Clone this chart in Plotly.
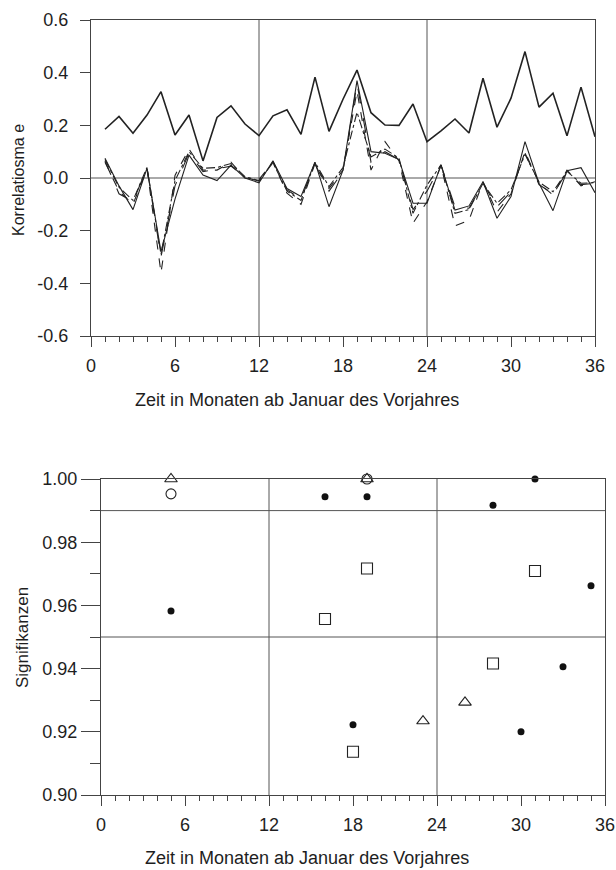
import plotly.graph_objects as go

# ---------------- data ----------------
months = list(range(1, 37))

korr_oben = [0.185, 0.234, 0.170, 0.239, 0.328, 0.163, 0.239, 0.065, 0.230, 0.274, 0.205, 0.161,
             0.236, 0.259, 0.166, 0.383, 0.177, 0.299, 0.410, 0.248, 0.201, 0.200, 0.281, 0.138,
             0.179, 0.224, 0.171, 0.379, 0.193, 0.303, 0.480, 0.269, 0.322, 0.160, 0.345, 0.157]

korr_a = [0.075, -0.030, -0.120, 0.037, -0.280, -0.080, 0.087, 0.011, -0.010, 0.049, 0.000, -0.018,
          0.065, -0.040, -0.070, 0.060, -0.109, 0.030, 0.370, 0.100, 0.094, 0.070, -0.096, -0.096,
          0.049, -0.122, -0.106, -0.014, -0.153, -0.070, 0.138, -0.020, -0.124, 0.028, 0.039, -0.056]

korr_b = [0.060, -0.050, -0.100, 0.035, -0.360, 0.010, 0.110, 0.030, 0.030, 0.060, 0.000, -0.005,
          0.060, -0.058, -0.100, 0.055, -0.040, 0.030, 0.330, 0.030, 0.138, 0.065, -0.172, -0.090,
          0.048, -0.182, -0.160, -0.014, -0.130, -0.060, 0.100, -0.020, -0.065, 0.030, -0.030, -0.014]

korr_c = [0.070, -0.035, -0.085, 0.040, -0.290, -0.010, 0.100, 0.037, 0.040, 0.055, 0.005, -0.010,
          0.058, -0.050, -0.085, 0.060, -0.033, 0.040, 0.250, 0.080, 0.110, 0.075, -0.134, -0.027,
          0.050, -0.134, -0.120, -0.020, -0.096, -0.045, 0.090, -0.015, -0.052, 0.025, -0.020, -0.018]

korr_d = [0.065, -0.060, -0.090, 0.038, -0.300, -0.030, 0.095, 0.024, 0.035, 0.045, 0.003, -0.012,
          0.062, -0.045, -0.080, 0.052, -0.050, 0.025, 0.360, 0.060, 0.100, 0.070, -0.120, -0.050,
          0.050, -0.110, -0.115, -0.020, -0.110, -0.052, 0.095, -0.025, -0.060, 0.022, -0.025, -0.020]

sig_punkt_x = [5, 16, 18, 19, 28, 30, 31, 33, 35]
sig_punkt_y = [0.9582, 0.9944, 0.9222, 0.9944, 0.9917, 0.9200, 1.0000, 0.9406, 0.9662]

sig_quadrat_x = [16, 18, 19, 28, 31]
sig_quadrat_y = [0.9557, 0.9137, 0.9717, 0.9416, 0.9709]

sig_dreieck_x = [5, 19, 23, 26]
sig_dreieck_y = [1.000, 1.000, 0.9234, 0.9293]

sig_kreis_x = [5, 19]
sig_kreis_y = [0.9953, 1.000]

x_ticks = [0, 6, 12, 18, 24, 30, 36]
x_ticktext = ["0", "6", "12", "18", "24", "30", "36"]
y1_ticks = [-0.6, -0.4, -0.2, 0.0, 0.2, 0.4, 0.6]
y1_ticktext = ["-0.6", "-0.4", "-0.2", "0.0", "0.2", "0.4", "0.6"]
y2_ticks = [0.90, 0.92, 0.94, 0.96, 0.98, 1.00]
y2_ticktext = ["0.90", "0.92", "0.94", "0.96", "0.98", "1.00"]

vert_lines = [12, 24]
h_lines_top = [0.0]
h_lines_bottom = [0.95, 0.99]

x_title = "Zeit in Monaten ab Januar des Vorjahres"
y1_title = "Korrelatiosma e"
y2_title = "Signifikanzen"

# ---------------- layout helpers ----------------
W, H = 616, 870
def fx(p):
    return p / W
def fy(p):
    return 1 - p / H

FONT = "Liberation Sans, Arial, sans-serif"
TXT = "#1e1e1e"
LINE = "#222222"
AXC = "#444444"
REF = "#555555"

fig = go.Figure()

# top chart
fig.add_trace(go.Scatter(x=months, y=korr_oben, mode="lines",
                         line=dict(color=LINE, width=1.6), xaxis="x", yaxis="y"))
for ys, dash in [(korr_d, "longdash"), (korr_c, "dashdot"), (korr_b, "dash"), (korr_a, "solid")]:
    fig.add_trace(go.Scatter(x=months, y=ys, mode="lines",
                             line=dict(color=LINE, width=1.1, dash=dash), xaxis="x", yaxis="y"))

# bottom chart
fig.add_trace(go.Scatter(x=sig_kreis_x, y=sig_kreis_y, mode="markers", cliponaxis=False,
                         marker=dict(symbol="circle-open", size=10, color=LINE, line=dict(width=1.1)),
                         xaxis="x2", yaxis="y2"))
fig.add_trace(go.Scatter(x=sig_quadrat_x, y=sig_quadrat_y, mode="markers", cliponaxis=False,
                         marker=dict(symbol="square-open", size=11, color=LINE, line=dict(width=1.1)),
                         xaxis="x2", yaxis="y2"))
fig.add_trace(go.Scatter(x=sig_dreieck_x, y=sig_dreieck_y, mode="markers", cliponaxis=False,
                         marker=dict(symbol="triangle-up-open", size=11, color=LINE, line=dict(width=1.1)),
                         xaxis="x2", yaxis="y2"))
fig.add_trace(go.Scatter(x=sig_punkt_x, y=sig_punkt_y, mode="markers", cliponaxis=False,
                         marker=dict(symbol="circle", size=7, color="#111111"),
                         xaxis="x2", yaxis="y2"))

shapes = []
for v in vert_lines:
    shapes.append(dict(type="line", xref="x", yref="y domain", x0=v, x1=v, y0=0, y1=1,
                       line=dict(color=REF, width=1), layer="below"))
    shapes.append(dict(type="line", xref="x2", yref="y2 domain", x0=v, x1=v, y0=0, y1=1,
                       line=dict(color=REF, width=1), layer="below"))
for h in h_lines_top:
    shapes.append(dict(type="line", xref="x domain", yref="y", x0=0, x1=1, y0=h, y1=h,
                       line=dict(color=REF, width=1), layer="below"))
for h in h_lines_bottom:
    shapes.append(dict(type="line", xref="x2 domain", yref="y2", x0=0, x1=1, y0=h, y1=h,
                       line=dict(color=REF, width=1), layer="below"))

tickfont = dict(family=FONT, size=18, color=TXT)

def xaxis_common(domain, anchor):
    return dict(domain=domain, anchor=anchor, range=[0, 36], tickmode="array", automargin=False,
                tickvals=x_ticks, ticktext=x_ticktext, ticks="outside", ticklen=10,
                tickcolor=AXC, tickwidth=1, showline=True, linecolor=AXC, linewidth=1,
                mirror=True, showgrid=False, zeroline=False, tickfont=tickfont,
                ticklabelstandoff=3,
                minor=dict(dtick=1, tick0=0, ticks="outside", ticklen=5, tickcolor=AXC,
                           tickwidth=1, showgrid=False))

fig.update_layout(
    template="none",
    width=W, height=H, margin=dict(l=0, r=0, t=0, b=0, pad=0), autosize=False,
    paper_bgcolor="white", plot_bgcolor="white", showlegend=False,
    font=dict(family=FONT, size=17, color=TXT),
    xaxis=xaxis_common([fx(91), fx(595)], "y"),
    yaxis=dict(domain=[fy(336), fy(20)], anchor="x", range=[-0.6, 0.6], tickmode="array",
               automargin=False,
               tickvals=y1_ticks, ticktext=y1_ticktext, ticks="outside", ticklen=10,
               tickcolor=AXC, showline=True, linecolor=AXC, linewidth=1, mirror=True,
               showgrid=False, zeroline=False, tickfont=tickfont, ticklabelstandoff=8),
    xaxis2=xaxis_common([fx(101), fx(605)], "y2"),
    yaxis2=dict(domain=[fy(795), fy(479)], anchor="x2", range=[0.90, 1.00], tickmode="array",
                automargin=False,
                tickvals=y2_ticks, ticktext=y2_ticktext, ticks="outside", ticklen=19,
                tickcolor=AXC, showline=True, linecolor=AXC, linewidth=1, mirror=True,
                showgrid=False, zeroline=False, tickfont=tickfont, ticklabelstandoff=0,
                minor=dict(dtick=0.01, tick0=0.9, ticks="outside", ticklen=10, tickcolor=AXC,
                           showgrid=False)),
    shapes=shapes,
    annotations=[
        dict(text=x_title, x=fx(297), y=fy(400), xref="paper", yref="paper",
             xanchor="center", yanchor="middle",
             showarrow=False, font=dict(family=FONT, size=18, color=TXT)),
        dict(text=x_title, x=fx(307), y=fy(858), xref="paper", yref="paper",
             xanchor="center", yanchor="middle",
             showarrow=False, font=dict(family=FONT, size=18, color=TXT)),
        dict(text=y1_title, x=fx(19), y=fy(180), xref="paper", yref="paper", textangle=-90,
             xanchor="center", yanchor="middle",
             showarrow=False, font=dict(family=FONT, size=16, color=TXT)),
        dict(text=y2_title, x=fx(22), y=fy(638), xref="paper", yref="paper", textangle=-90,
             xanchor="center", yanchor="middle",
             showarrow=False, font=dict(family=FONT, size=17, color=TXT)),
    ],
)

fig.write_html("out.html")
